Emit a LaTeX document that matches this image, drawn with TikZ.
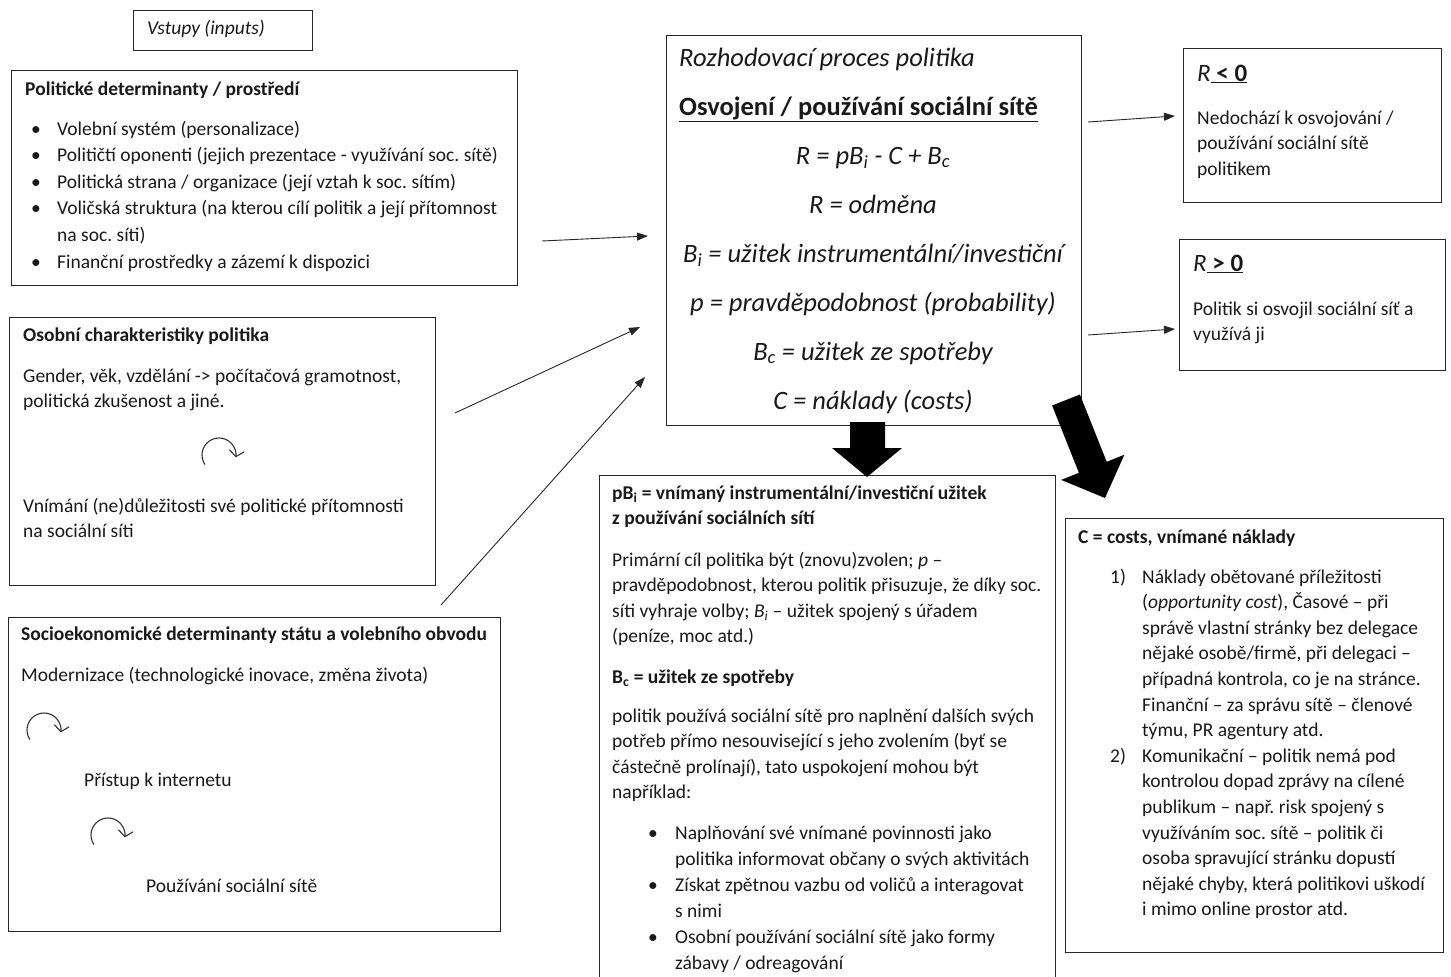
\documentclass[tikz,border=0pt]{standalone}
\usepackage{fontspec}
\setmainfont{Carlito}
\usetikzlibrary{arrows.meta}
\frenchspacing
\newcommand\bodyf{\fontsize{19.5}{25.6}\selectfont}
\newcommand\listf{\fontsize{19.5}{26.6}\selectfont}
\newcommand\bulf{\fontsize{19.5}{26}\selectfont}
\newcommand\bigf{\fontsize{26.5}{49}\selectfont}
\newcommand\midf{\fontsize{25}{28}\selectfont}
\newcommand\bl{\makebox[26pt][l]{\textbullet}}
\newcommand\blb{\makebox[27pt][l]{\textbullet}}
\newcommand\num[1]{\makebox[32pt][l]{#1}}
\newcommand\ind{\makebox[32pt][l]{}}
\newcommand\ml[1]{\begin{tabular}[t]{@{}l@{}}#1\end{tabular}}
\newcommand\mc[1]{\begin{tabular}[t]{@{}c@{}}#1\end{tabular}}
\begin{document}
\begin{tikzpicture}[x=1pt,y=-1pt,
  box/.style={draw=black!85, line width=1.3pt, inner sep=0pt, anchor=north west},
  txt/.style={anchor=base west, inner sep=0pt, font=\bodyf, text=black!90},
  conn/.style={-{Triangle[length=11pt,width=8pt]}, line width=0.9pt, draw=black!85},
  curl/.style={-{Straight Barb[length=6pt,width=15pt]}, line width=1.1pt, draw=black!80},
  block/.style={fill=black, draw=none}]
\useasboundingbox (0,0) rectangle (1451,977);
\clip (0,0) rectangle (1451,977);

% boxes
\node[box, minimum width=179pt, minimum height=40pt] (vst) at (133,10) {};
\node[box, minimum width=506pt, minimum height=215pt] (pol) at (11,70) {};
\node[box, minimum width=426pt, minimum height=268pt] (oso) at (9,317) {};
\node[box, minimum width=492pt, minimum height=314pt] (soc) at (8,617) {};
\node[box, minimum width=415pt, minimum height=390pt] (roz) at (666,35) {};
\node[box, minimum width=258pt, minimum height=154pt] (rneg) at (1183,48) {};
\node[box, minimum width=266pt, minimum height=131pt] (rpos) at (1179,239) {};
\node[box, minimum width=456pt, minimum height=520pt] (pbi) at (599,475) {};
\node[box, minimum width=378pt, minimum height=434pt] (cst) at (1065,518) {};

% Vstupy
\node[txt] (vstT) at (147,34) {\textit{Vstupy (inputs)}};

% Politicke
\node[txt] (polT) at (25,95) {\textbf{Politické determinanty / prostředí}};
\node[txt, font=\listf] (polL) at (31,135) {\ml{\bl Volební systém (personalizace)\\
\bl Političtí oponenti (jejich prezentace - využívání soc. sítě)\\
\bl Politická strana / organizace (její vztah k soc. sítím)\\
\bl Voličská struktura (na kterou cílí politik a její přítomnost\\
\makebox[26pt][l]{}na soc. síti)\\
\bl Finanční prostředky a zázemí k dispozici}};

% Osobni
\node[txt] (osoT) at (23,341) {\textbf{Osobní charakteristiky politika}};
\node[txt] (osoA) at (23,382) {\ml{Gender, věk, vzdělání -> počítačová gramotnost,\\politická zkušenost a jiné.}};
\node[txt] (osoB) at (23,512) {\ml{Vnímání (ne)důležitosti své politické přítomnosti\\na sociální síti}};
\coordinate (cu1) at (219,455);

% Socioekonomicke
\node[txt] (socT) at (21,640) {\textbf{Socioekonomické determinanty státu a volebního obvodu}};
\node[txt] (socA) at (21,681) {Modernizace (technologické inovace, změna života)};
\node[txt] (socB) at (84,786) {Přístup k internetu};
\node[txt] (socC) at (146,892) {Používání sociální sítě};
\coordinate (cu2) at (44,730);
\coordinate (cu3) at (108,835);

% central
\node[txt, font=\bigf] (rozT) at (679,66) {\ml{\textit{Rozhodovací proces politika}\\\textbf{\underline{Osvojení / používání sociální sítě}}}};
\node[anchor=base, inner sep=0pt, font=\bigf\itshape, text=black!90] (rozF) at (873,164)
 {\mc{R = pB\textsubscript{i} - C + B\textsubscript{c}\\
  R = odměna\\
  B\textsubscript{i} = užitek instrumentální/investiční\\
  p = pravděpodobnost (probability)\\
  B\textsubscript{c} = užitek ze spotřeby\\
  C = náklady (costs)}};

% R<0, R>0
\node[txt, font=\midf] (rnegT) at (1197,81) {\textit{R}\underline{\textbf{ < 0}}};
\node[txt] (rnegA) at (1197,124) {\ml{Nedochází k osvojování /\\používání sociální sítě\\politikem}};
\node[txt, font=\midf] (rposT) at (1193,271) {\textit{R}\underline{\textbf{ > 0}}};
\node[txt] (rposA) at (1193,315) {\ml{Politik si osvojil sociální síť a\\využívá ji}};

% pBi box
\node[txt] (pbiT) at (612,499) {\ml{\textbf{pB\textsubscript{i} = vnímaný instrumentální/investiční užitek}\\\textbf{z používání sociálních sítí}}};
\node[txt] (pbiA) at (612,566) {\ml{Primární cíl politika být (znovu)zvolen; \textit{p} –\\
pravděpodobnost, kterou politik přisuzuje, že díky soc.\\
síti vyhraje volby; \textit{B\textsubscript{i}} – užitek spojený s úřadem\\
(peníze, moc atd.)}};
\node[txt] (pbiB) at (612,683) {\textbf{B\textsubscript{c} = užitek ze spotřeby}};
\node[txt] (pbiC) at (612,722) {\ml{politik používá sociální sítě pro naplnění dalších svých\\
potřeb přímo nesouvisející s jeho zvolením (byť se\\
částečně prolínají), tato uspokojení mohou být\\
například:}};
\node[txt, font=\bulf] (pbiL) at (648,839) {\ml{\blb Naplňování své vnímané povinnosti jako\\
\makebox[27pt][l]{}politika informovat občany o svých aktivitách\\
\blb Získat zpětnou vazbu od voličů a interagovat\\
\makebox[27pt][l]{}s nimi\\
\blb Osobní používání sociální sítě jako formy\\
\makebox[27pt][l]{}zábavy / odreagování}};

% costs box
\node[txt] (cstT) at (1078,543) {\textbf{C = costs, vnímané náklady}};
\node[txt] (cstL) at (1110,583) {\ml{\num{1)}Náklady obětované příležitosti\\
\ind(\textit{opportunity cost}), Časové – při\\
\ind správě vlastní stránky bez delegace\\
\ind nějaké osobě/firmě, při delegaci –\\
\ind případná kontrola, co je na stránce.\\
\ind Finanční – za správu sítě – členové\\
\ind týmu, PR agentury atd.\\
\num{2)}Komunikační – politik nemá pod\\
\ind kontrolou dopad zprávy na cílené\\
\ind publikum – např. risk spojený s\\
\ind využíváním soc. sítě – politik či\\
\ind osoba spravující stránku dopustí\\
\ind nějaké chyby, která politikovi uškodí\\
\ind i mimo online prostor atd.}};

% curls
\draw[curl] (cu1) ++(146:17) arc[start angle=146, end angle=368, radius=17];
\draw[curl] (cu2) ++(146:17) arc[start angle=146, end angle=368, radius=17];
\draw[curl] (cu3) ++(146:17) arc[start angle=146, end angle=368, radius=17];

% thin connectors
\coordinate (p1) at (542,241); \coordinate (q1) at (648,236);
\coordinate (p2) at (455,413); \coordinate (q2) at (640,327);
\coordinate (p3) at (441,605); \coordinate (q3) at (645,377);
\coordinate (p4) at (1088,122); \coordinate (q4) at (1175,116);
\coordinate (p5) at (1088,335); \coordinate (q5) at (1175,329);
\draw[conn] (p1) -- (q1);
\draw[conn] (p2) -- (q2);
\draw[conn] (p3) -- (q3);
\draw[conn] (p4) -- (q4);
\draw[conn] (p5) -- (q5);

% block arrows
\fill[block] (850,422) -- (885,422) -- (885,448) -- (902,448) -- (867,477) -- (832,448) -- (850,448) -- cycle;
\fill[block] (1052.1,405.5) -- (1079.9,394.5) -- (1106.7,461.8) -- (1124.4,454.7) -- (1105,498) -- (1061.2,479.9) -- (1078.9,472.8) -- cycle;
\end{tikzpicture}
\end{document}
